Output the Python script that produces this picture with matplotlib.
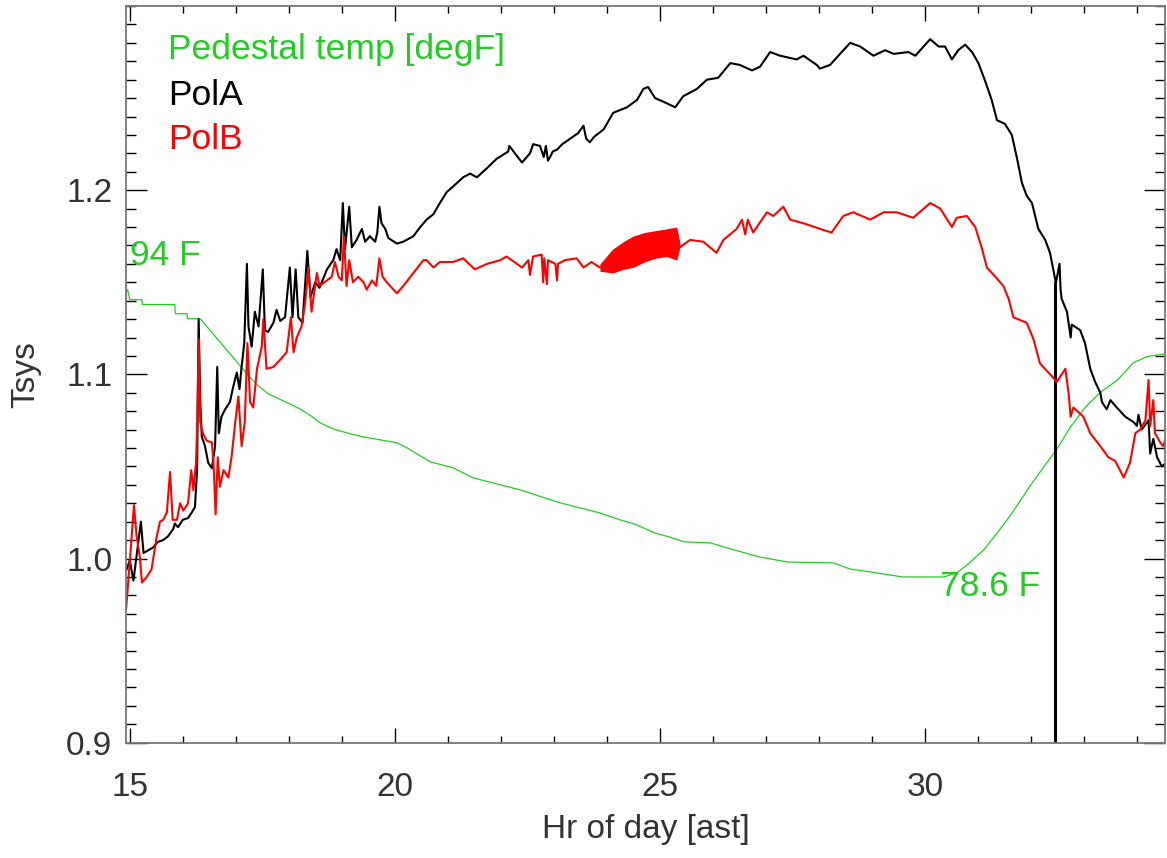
import matplotlib
matplotlib.use('Agg')
import numpy as np
import matplotlib.pyplot as plt
from matplotlib.ticker import MultipleLocator, FormatStrFormatter

# PolA Tsys vs hour (ast)
polA_hr = [14.93, 14.99, 15.06, 15.20, 15.25, 15.37, 15.43, 15.52, 15.62, 15.71,
           15.81, 15.84, 15.90, 15.99, 16.09, 16.16, 16.22, 16.26, 16.29, 16.32,
           16.35, 16.41, 16.47, 16.54, 16.60, 16.64, 16.67, 16.72, 16.79, 16.88,
           16.94, 17.01, 17.06, 17.10, 17.15, 17.20, 17.23, 17.29, 17.35, 17.42,
           17.50, 17.54, 17.60, 17.70, 17.76, 17.83, 17.92, 18.01, 18.06, 18.12,
           18.17, 18.25, 18.34, 18.40, 18.49, 18.57, 18.71, 18.83, 18.89, 18.96,
           19.01, 19.05, 19.13, 19.18, 19.27, 19.37, 19.43, 19.52, 19.62, 19.66,
           19.70, 19.74, 19.81, 19.87, 20.03, 20.15, 20.34, 20.47, 20.59, 20.72,
           20.84, 20.97, 21.09, 21.28, 21.41, 21.54, 21.73, 21.91, 22.13, 22.15,
           22.39, 22.54, 22.60, 22.73, 22.80, 22.84, 22.88, 22.92, 22.97, 23.05,
           23.15, 23.30, 23.45, 23.55, 23.60, 23.67, 23.75, 23.93, 24.11, 24.37,
           24.56, 24.68, 24.77, 24.90, 25.06, 25.28, 25.43, 25.69, 25.88, 26.09,
           26.32, 26.50, 26.73, 26.88, 27.07, 27.26, 27.57, 27.70, 27.95, 28.01,
           28.20, 28.39, 28.58, 28.77, 29.02, 29.24, 29.40, 29.68, 29.81, 30.09,
           30.25, 30.37, 30.50, 30.62, 30.75, 30.88, 31.00, 31.13, 31.25, 31.35,
           31.50, 31.63, 31.73, 31.82, 31.91, 32.01, 32.13, 32.26, 32.35, 32.452,
           32.455, 32.458, 32.53, 32.55, 32.57, 32.67, 32.74, 32.76, 32.92, 33.01,
           33.11, 33.20, 33.30, 33.33, 33.42, 33.49, 33.61, 33.77, 33.93, 33.99,
           34.02, 34.08, 34.21, 34.24, 34.30, 34.37, 34.46, 34.54]
polA = [0.994, 0.999, 0.988, 1.020, 1.003, 1.005, 1.006, 1.009, 1.010, 1.012,
        1.016, 1.019, 1.017, 1.021, 1.022, 1.025, 1.028, 1.048, 1.130, 1.085,
        1.066, 1.061, 1.052, 1.049, 1.061, 1.104, 1.068, 1.077, 1.081, 1.085,
        1.093, 1.101, 1.092, 1.104, 1.117, 1.160, 1.126, 1.115, 1.134, 1.126,
        1.157, 1.124, 1.123, 1.128, 1.135, 1.129, 1.131, 1.158, 1.131, 1.157,
        1.131, 1.128, 1.167, 1.142, 1.150, 1.147, 1.157, 1.162, 1.168, 1.162,
        1.193, 1.168, 1.191, 1.169, 1.173, 1.179, 1.172, 1.175, 1.172, 1.177,
        1.191, 1.182, 1.179, 1.174, 1.171, 1.172, 1.175, 1.180, 1.184, 1.187,
        1.193, 1.199, 1.202, 1.207, 1.209, 1.207, 1.212, 1.217, 1.221, 1.224,
        1.215, 1.220, 1.225, 1.224, 1.218, 1.224, 1.216, 1.218, 1.221, 1.222,
        1.225, 1.228, 1.231, 1.235, 1.228, 1.226, 1.229, 1.233, 1.242, 1.245,
        1.249, 1.255, 1.256, 1.250, 1.248, 1.245, 1.251, 1.255, 1.260, 1.261,
        1.269, 1.268, 1.265, 1.267, 1.275, 1.273, 1.271, 1.273, 1.268, 1.266,
        1.268, 1.274, 1.280, 1.278, 1.273, 1.276, 1.274, 1.275, 1.273, 1.282,
        1.278, 1.278, 1.271, 1.276, 1.279, 1.275, 1.269, 1.259, 1.249, 1.238,
        1.236, 1.230, 1.217, 1.204, 1.197, 1.193, 1.179, 1.173, 1.166, 1.151,
        0.000, 1.149, 1.160, 1.146, 1.141, 1.134, 1.120, 1.127, 1.124, 1.117,
        1.103, 1.096, 1.090, 1.085, 1.081, 1.086, 1.082, 1.077, 1.074, 1.072,
        1.078, 1.070, 1.075, 1.057, 1.065, 1.055, 1.050, 1.052]

# PolB Tsys vs hour (ast)
polB_hr = [14.92, 14.99, 15.07, 15.12, 15.18, 15.22, 15.31, 15.40, 15.50, 15.56,
           15.62, 15.69, 15.75, 15.80, 15.88, 15.94, 16.00, 16.09, 16.15, 16.19,
           16.24, 16.26, 16.29, 16.32, 16.37, 16.44, 16.54, 16.57, 16.61, 16.65,
           16.69, 16.76, 16.85, 16.91, 16.98, 17.04, 17.10, 17.16, 17.21, 17.26,
           17.32, 17.39, 17.48, 17.51, 17.57, 17.70, 17.83, 17.95, 18.03, 18.08,
           18.14, 18.23, 18.30, 18.36, 18.42, 18.52, 18.57, 18.71, 18.80, 18.86,
           18.93, 18.99, 19.03, 19.08, 19.13, 19.20, 19.30, 19.40, 19.46, 19.56,
           19.64, 19.70, 19.76, 19.84, 20.03, 20.15, 20.34, 20.53, 20.59, 20.72,
           20.84, 20.97, 21.09, 21.28, 21.50, 21.73, 21.98, 22.10, 22.39, 22.51,
           22.54, 22.60, 22.76, 22.79, 22.81, 22.86, 22.88, 23.02, 23.05, 23.07,
           23.20, 23.42, 23.55, 23.70, 23.86, 24.30, 24.70, 25.12, 25.32,
           25.37, 25.56, 25.81, 26.06, 26.19, 26.44, 26.54, 26.60, 26.65, 26.75,
           27.01, 27.13, 27.32, 27.45, 27.70, 28.01, 28.23, 28.45, 28.64, 28.96,
           29.21, 29.46, 29.77, 30.09, 30.28, 30.50, 30.59, 30.78, 30.94, 31.06,
           31.16, 31.32, 31.47, 31.57, 31.66, 31.91, 32.04, 32.16, 32.32, 32.48,
           32.64, 32.70, 32.74, 32.79, 32.98, 33.11, 33.30, 33.45, 33.58, 33.74,
           33.86, 33.96, 34.05, 34.15, 34.21, 34.24, 34.30, 34.33, 34.43, 34.49,
           34.54]
polB = [0.972, 0.998, 1.029, 1.012, 1.001, 0.987, 0.990, 0.994, 1.012, 1.020,
        1.021, 1.025, 1.047, 1.021, 1.021, 1.030, 1.026, 1.030, 1.048, 1.037,
        1.052, 1.070, 1.119, 1.074, 1.068, 1.064, 1.063, 1.052, 1.024, 1.055,
        1.039, 1.048, 1.044, 1.055, 1.074, 1.088, 1.061, 1.074, 1.117, 1.085,
        1.082, 1.103, 1.115, 1.130, 1.103, 1.104, 1.108, 1.112, 1.131, 1.112,
        1.120, 1.126, 1.139, 1.158, 1.134, 1.155, 1.148, 1.151, 1.153, 1.161,
        1.153, 1.151, 1.175, 1.148, 1.162, 1.150, 1.153, 1.150, 1.146, 1.151,
        1.148, 1.163, 1.153, 1.150, 1.144, 1.148, 1.155, 1.162, 1.162, 1.158,
        1.161, 1.161, 1.161, 1.163, 1.157, 1.160, 1.162, 1.164, 1.158, 1.162,
        1.154, 1.164, 1.165, 1.150, 1.163, 1.149, 1.162, 1.160, 1.151, 1.160,
        1.162, 1.163, 1.158, 1.161, 1.158, 1.165, 1.169, 1.171, 1.176,
        1.169, 1.173, 1.172, 1.166, 1.173, 1.179, 1.184, 1.176, 1.184, 1.177,
        1.188, 1.186, 1.191, 1.184, 1.182, 1.179, 1.177, 1.186, 1.188, 1.184,
        1.188, 1.188, 1.185, 1.193, 1.190, 1.180, 1.185, 1.186, 1.180, 1.169,
        1.158, 1.153, 1.148, 1.141, 1.131, 1.128, 1.119, 1.106, 1.101, 1.096,
        1.103, 1.090, 1.077, 1.082, 1.077, 1.068, 1.061, 1.055, 1.053, 1.044,
        1.052, 1.068, 1.070, 1.075, 1.097, 1.072, 1.086, 1.068, 1.063, 1.061,
        1.066]

# PolB fast-ripple envelope (the solid red band)
band_hr = [23.86, 24.10, 24.30, 24.48, 24.70, 24.90, 25.12, 25.31, 25.36]
band_lo = [1.156, 1.155, 1.157, 1.158, 1.161, 1.163, 1.164, 1.162, 1.168]
band_hi = [1.160, 1.168, 1.172, 1.175, 1.177, 1.178, 1.179, 1.180, 1.172]

# pedestal temperature [degF]
temp_hr = [14.92, 14.95, 14.99, 15.22, 15.23, 15.84, 15.85, 16.07, 16.08, 16.32,
           17.20, 17.39, 17.60, 17.96, 18.20, 18.43, 18.58, 18.82, 19.15, 19.39,
           20.03, 20.22, 20.47, 20.66, 21.09, 21.47, 22.35, 23.11, 23.86, 24.24,
           24.51, 24.89, 25.16, 25.45, 25.95, 26.25, 26.87, 27.40, 28.27, 28.57,
           28.95, 29.57, 30.35, 30.59, 30.83, 31.10, 31.37, 31.65, 31.99, 32.26,
           32.47, 32.74, 33.01, 33.29, 33.63, 33.92, 34.18, 34.54]
temp_F = [93.84, 94.00, 93.46, 93.46, 93.20, 93.20, 92.71, 92.71, 92.44, 92.44,
          89.49, 88.90, 88.42, 87.94, 87.61, 87.19, 86.86, 86.54, 86.27, 86.11,
          85.79, 85.52, 85.09, 84.77, 84.45, 83.91, 83.27, 82.57, 82.03, 81.66,
          81.44, 80.96, 80.75, 80.48, 80.42, 80.16, 79.67, 79.40, 79.35, 79.03,
          78.87, 78.60, 78.60, 78.81, 79.35, 80.05, 81.01, 82.09, 83.54, 84.61,
          85.41, 86.65, 87.67, 88.47, 89.17, 90.08, 90.41, 90.57]

# temperature is scaled onto the Tsys axis: min temp -> 0.990, max temp -> 1.146
tmin, tmax = min(temp_F), max(temp_F)
ymin_t, ymax_t = 0.990, 1.146
temp_scaled = [ymin_t + (t - tmin) / (tmax - tmin) * (ymax_t - ymin_t) for t in temp_F]

green = '#22cc22'
grey = '#333333'

plt.rcParams['font.family'] = ['Liberation Sans', 'DejaVu Sans']

fig = plt.figure(figsize=(11.67, 8.58), dpi=100)
ax = fig.add_axes([0.108, 0.1344, 0.8903, 0.8586])

ax.plot(temp_hr, temp_scaled, color=green, lw=0.9)
ax.plot(polA_hr, polA, color='black', lw=1.5)
ax.fill_between(band_hr, band_lo, band_hi, color='red', lw=0)
ax.plot(polB_hr, polB, color='red', lw=1.5)

ax.text(14.99, 1.1596, '94 F', color=green, fontsize=25.5, ha='left', va='baseline')
ax.text(30.28, 0.9797, '78.6 F', color=green, fontsize=25.5, ha='left', va='baseline')

ax.text(15.71, 1.2710, 'Pedestal temp [degF]', color=green, fontsize=25.5, va='baseline')
ax.text(15.71, 1.2465, 'PolA', color='black', fontsize=25.5, va='baseline')
ax.text(15.71, 1.2221, 'PolB', color='red', fontsize=25.5, va='baseline')

ax.set_xlim(14.92, 34.52)
ax.set_ylim(0.9, 1.3)
ax.set_xticks([15, 20, 25, 30])
ax.xaxis.set_minor_locator(MultipleLocator(1))
ax.set_yticks([0.9, 1.0, 1.1, 1.2])
ax.yaxis.set_major_formatter(FormatStrFormatter('%.1f'))
ax.yaxis.set_minor_locator(MultipleLocator(0.01))

ax.tick_params(axis='both', which='both', direction='in', top=True, right=True,
               colors='black', labelcolor=grey, labelsize=24, width=1.0)
ax.tick_params(axis='x', which='major', length=10.6, pad=21)
ax.tick_params(axis='x', which='minor', length=5.3)
ax.tick_params(axis='y', which='major', length=15, pad=10)
ax.tick_params(axis='y', which='minor', length=7.5)

for s in ax.spines.values():
    s.set_color('#777777')
    s.set_linewidth(1.3)

ax.set_xlabel('Hr of day [ast]', fontsize=24, color=grey, va='center')
ax.set_ylabel('Tsys', fontsize=24, color=grey, va='center')
ax.xaxis.set_label_coords(0.5, -0.1185)
ax.yaxis.set_label_coords(-0.097, 0.5)

plt.savefig('out.png', dpi=100)
